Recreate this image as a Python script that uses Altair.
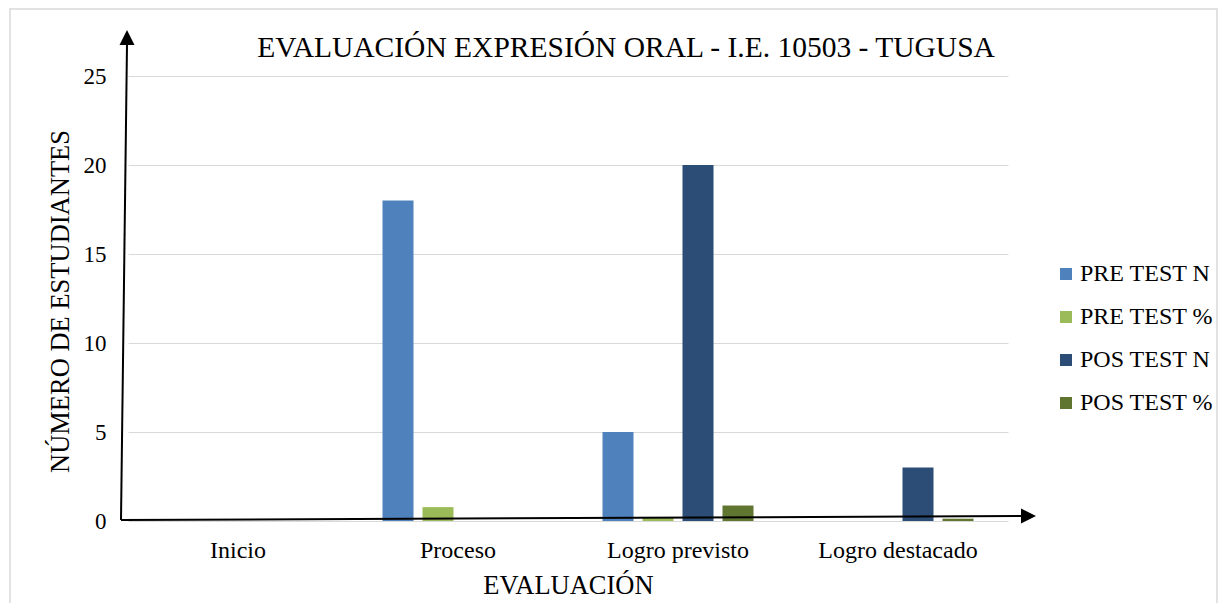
import altair as alt
import pandas as pd

categories = ["Inicio", "Proceso", "Logro previsto", "Logro destacado"]
series = ["PRE TEST N", "PRE TEST %", "POS TEST N", "POS TEST %"]
pre_n = [0, 18, 5, 0]
pre_pct = [0, 0.78, 0.22, 0]
pos_n = [0, 0, 20, 3]
pos_pct = [0, 0, 0.87, 0.13]
colors = ["#4F81BD", "#9BBB59", "#2C4D75", "#5F7530"]
y_ticks = [0, 5, 10, 15, 20, 25]

title_text = "EVALUACIÓN EXPRESIÓN ORAL - I.E. 10503 - TUGUSA"
x_title = "EVALUACIÓN"
y_title = "NÚMERO DE ESTUDIANTES"

FONT = "Liberation Serif"

rows = []
for s, vals in zip(series, [pre_n, pre_pct, pos_n, pos_pct]):
    for c, v in zip(categories, vals):
        rows.append({"Evaluacion": c, "Serie": s, "Valor": v})
df = pd.DataFrame(rows)

dummy = pd.DataFrame({"a": [0]})

bars = alt.Chart(df).mark_bar().encode(
    x=alt.X(
        "Evaluacion:N",
        sort=categories,
        scale=alt.Scale(paddingInner=0, paddingOuter=0),
        axis=alt.Axis(
            title=x_title,
            titleFont=FONT,
            titleFontSize=26.5,
            titleFontWeight="normal",
            titleColor="black",
            titleX=440,
            titleY=72,
            titleBaseline="alphabetic",
            labelFont=FONT,
            labelFontSize=24,
            labelColor="black",
            labelAngle=0,
            labelBaseline="alphabetic",
            labelPadding=36,
            ticks=False,
            tickSize=0,
            domain=False,
            grid=False,
        ),
    ),
    xOffset=alt.XOffset(
        "Serie:N",
        sort=series,
        scale=alt.Scale(paddingInner=0.225, paddingOuter=0.8625),
    ),
    y=alt.Y(
        "Valor:Q",
        scale=alt.Scale(domain=[0, 25], nice=False),
        axis=alt.Axis(
            title=y_title,
            titleFont=FONT,
            titleFontSize=26.5,
            titleFontWeight="normal",
            titleColor="black",
            titleAngle=-90,
            titleX=-60,
            titleY=225,
            titleAlign="center",
            titleBaseline="alphabetic",
            values=y_ticks,
            labelFont=FONT,
            labelFontSize=23,
            labelColor="black",
            labelPadding=22,
            ticks=False,
            tickSize=0,
            domain=False,
            grid=True,
            gridColor="#D9D9D9",
            gridWidth=1,
        ),
    ),
    color=alt.Color(
        "Serie:N",
        sort=series,
        scale=alt.Scale(domain=series, range=colors),
        legend=alt.Legend(
            title=None,
            orient="none",
            legendX=926,
            legendY=186,
            padding=0,
            symbolType="square",
            symbolSize=144,
            symbolStrokeWidth=0,
            labelFont=FONT,
            labelFontSize=24,
            labelColor="black",
            labelOffset=2,
            rowPadding=19,
        ),
    ),
)

title = alt.Chart(dummy).mark_text(
    text=title_text, font=FONT, fontSize=29.5, align="center", baseline="alphabetic", color="black"
).encode(x=alt.value(498), y=alt.value(-19))

border = alt.Chart(dummy).mark_rect(fill=None, stroke="#D9D9D9", strokeWidth=1.5).encode(
    x=alt.value(-118), x2=alt.value(1089), y=alt.value(-67), y2=alt.value(540)
)

y_axis_line = alt.Chart(dummy).mark_rule(color="black", strokeWidth=2).encode(
    x=alt.value(-7), y=alt.value(444), x2=alt.value(-1), y2=alt.value(-32)
)
x_axis_line = alt.Chart(dummy).mark_rule(color="black", strokeWidth=2).encode(
    x=alt.value(-7), y=alt.value(444), x2=alt.value(893), y2=alt.value(440)
)
up_head = alt.Chart(dummy).mark_point(
    shape="M0,-1L-1,1L1,1Z", filled=True, color="black", opacity=1, size=225
).encode(x=alt.value(-1), y=alt.value(-38.5))
right_head = alt.Chart(dummy).mark_point(
    shape="M1,0L-1,-1L-1,1Z", filled=True, color="black", opacity=1, size=225
).encode(x=alt.value(900.5), y=alt.value(440))

chart = alt.layer(
    border, bars, y_axis_line, x_axis_line, up_head, right_head, title
).properties(
    width=880,
    height=445,
    padding={"left": 120, "top": 68, "right": 212, "bottom": 82},
    autosize=alt.AutoSizeParams(type="none"),
    background="white",
).configure_view(stroke=None)

chart.save("out.html", embed_options={"renderer": "svg", "actions": False})
